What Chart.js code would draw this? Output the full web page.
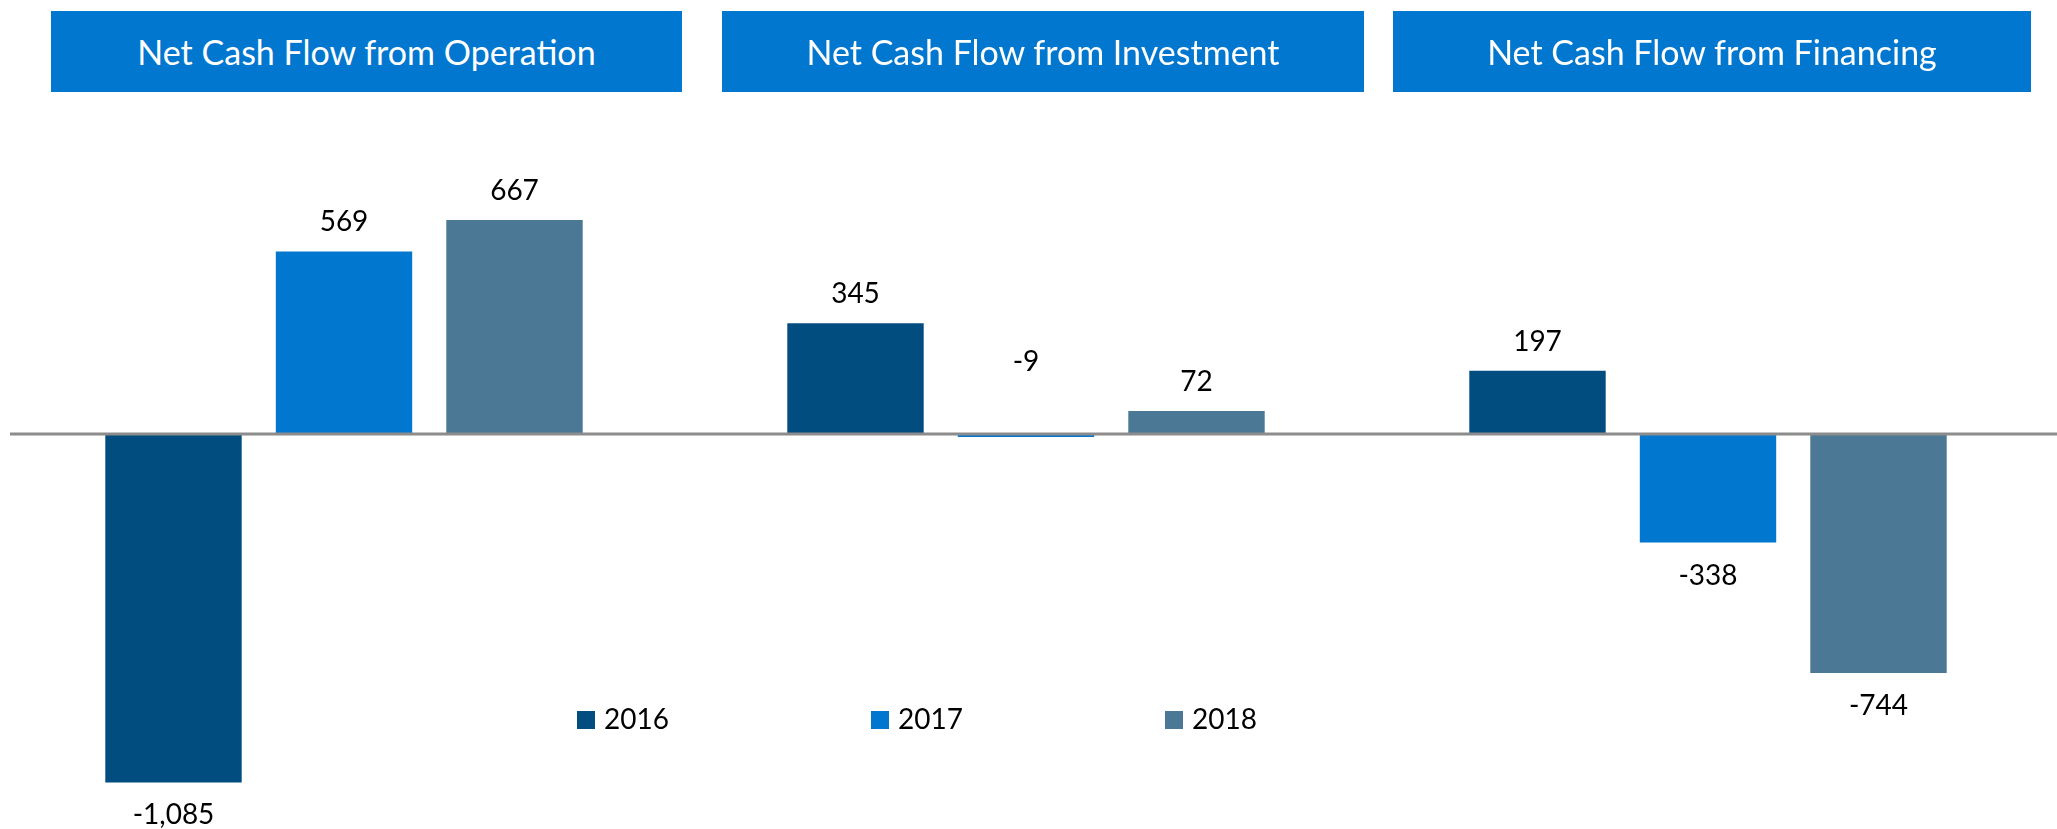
<!DOCTYPE html>
<html>
<head>
<meta charset="utf-8">
<script src="https://cdn.jsdelivr.net/npm/chart.js@4.4.0/dist/chart.umd.min.js"></script>
<style>
  body { margin: 0; background: #fff; overflow: hidden; }
  #wrap { position: relative; width: 2057px; height: 829px; }
  canvas { position: absolute; left: 0; top: 0; }
  .head {
    position: absolute; top: 11px; height: 81px;
    background: #0277cf; color: #fff;
    font-family: Lato, sans-serif; font-size: 34px;
    display: flex; align-items: center; justify-content: center;
  }
</style>
</head>
<body>
<div id="wrap">
  <canvas id="chart" width="2057" height="829"></canvas>
</div>
<script>
// Data
const categories = ["Net Cash Flow from Operation", "Net Cash Flow from Investment", "Net Cash Flow from Financing"];
const years = ["2016", "2017", "2018"];
const values2016 = [-1085, 345, 197];
const values2017 = [569, -9, -338];
const values2018 = [667, 72, -744];
const colors = ["#024d80", "#0277cf", "#4a7895"];

// header boxes above each group
const headBoxes = [[51, 682], [722, 1364], [1393, 2031]];
const wrap = document.getElementById("wrap");
categories.forEach((c, i) => {
  const d = document.createElement("div");
  d.className = "head";
  d.style.left = headBoxes[i][0] + "px";
  d.style.width = (headBoxes[i][1] - headBoxes[i][0]) + "px";
  d.textContent = c;
  wrap.appendChild(d);
});

// zero line, value labels and legend drawn on the canvas
const extras = {
  id: "extras",
  afterDatasetsDraw(chart) {
    const ctx = chart.ctx;
    const y0 = chart.scales.y.getPixelForValue(0);
    ctx.save();
    ctx.strokeStyle = "#8c8c8c";
    ctx.lineWidth = 3;
    ctx.beginPath();
    ctx.moveTo(10, y0);
    ctx.lineTo(chart.width, y0);
    ctx.stroke();

    ctx.fillStyle = "#000";
    ctx.font = "28px Lato";
    ctx.textAlign = "center";
    ctx.textBaseline = "alphabetic";
    chart.data.datasets.forEach((ds, di) => {
      chart.getDatasetMeta(di).data.forEach((bar, i) => {
        const v = ds.data[i];
        const txt = v.toLocaleString("en-US");
        let y;
        if (v >= 0) y = bar.y - 20;
        else if (Math.abs(v) < 20) y = y0 - 63; // tiny negative label sits above
        else y = bar.y + 42;
        ctx.fillText(txt, bar.x, y);
      });
    });

    // legend in the middle of the plot
    ctx.textAlign = "left";
    ctx.textBaseline = "middle";
    chart.data.datasets.forEach((ds, di) => {
      const x = 577 + di * 294;
      ctx.fillStyle = ds.backgroundColor;
      ctx.fillRect(x, 711, 18, 18);
      ctx.fillStyle = "#000";
      ctx.fillText(ds.label, x + 27, 720);
    });
    ctx.restore();
  }
};

new Chart(document.getElementById("chart"), {
  type: "bar",
  data: {
    labels: categories,
    datasets: [
      { label: years[0], data: values2016, backgroundColor: colors[0] },
      { label: years[1], data: values2017, backgroundColor: colors[1] },
      { label: years[2], data: values2018, backgroundColor: colors[2] }
    ]
  },
  options: {
    responsive: false,
    animation: false,
    layout: { padding: { left: 3, right: 8, top: 0, bottom: 0 } },
    datasets: { bar: { categoryPercentage: 0.75, barPercentage: 0.8 } },
    scales: {
      x: { display: false },
      y: { display: false, min: -1230, max: 1352 }
    },
    plugins: {
      legend: { display: false },
      tooltip: { enabled: false }
    }
  },
  plugins: [extras]
});
</script>
</body>
</html>
